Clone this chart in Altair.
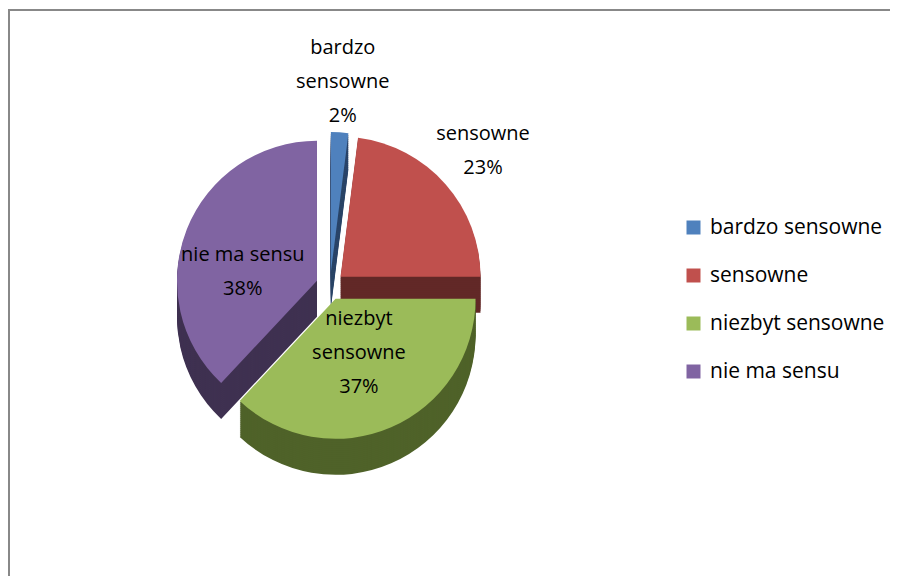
import altair as alt
import pandas as pd

categories = ["bardzo sensowne", "sensowne", "niezbyt sensowne", "nie ma sensu"]
values = [2, 23, 37, 38]
label_names = ["bardzo\nsensowne", "sensowne", "niezbyt\nsensowne", "nie ma sensu"]
top_colors = ["#4F81BD", "#C0504D", "#9BBB59", "#8064A2"]
side_colors = ["#2A4468", "#622827", "#4F6229", "#3F3151"]

df = pd.DataFrame({
    "category": categories,
    "value": values,
    "label_name": label_names,
    "order": list(range(len(categories))),
    "side": side_colors,
})

W, H = 882, 568
CX, CY = 322, 278
R = 140
E = 14
D = 36
LH = 34
FONT = "Open Sans"

base = (
    alt.Chart(df)
    .transform_joinaggregate(total="sum(value)")
    .transform_window(cum="sum(value)", sort=[alt.SortField("order")], frame=[None, 0])
    .transform_calculate(
        t2="datum.cum / datum.total * 2 * PI",
        t1="(datum.cum - datum.value) / datum.total * 2 * PI",
    )
    .transform_calculate(mid="(datum.t1 + datum.t2) / 2")
    .transform_calculate(
        cx=f"{CX} + {E} * sin(datum.mid)",
        cy=f"{CY} - {E} * cos(datum.mid)",
        lr=f"datum.value < 30 ? {R + 50} : (datum.mid > PI ? {R * 0.57} : {R * 0.42})",
        kv="datum.value < 30 ? 1 : (datum.mid > PI ? 0.3 : 1)",
        nl="indexof(datum.label_name, '\\n') >= 0 ? 3 : 2",
        label="datum.label_name + '\\n' + datum.value + '%'",
    )
    .transform_calculate(
        lx="datum.cx + datum.lr * sin(datum.mid)",
        ly=f"datum.cy - datum.lr * datum.kv * cos(datum.mid) - (datum.nl - 1) * {LH / 2}",
    )
)

pos = dict(
    x=alt.X("cx:Q", scale=None, axis=None),
    y=alt.Y("cy:Q", scale=None, axis=None),
    theta=alt.Theta("t1:Q", scale=None),
    theta2=alt.Theta2("t2:Q"),
)

depth_layers = [
    base.mark_arc(radius=R, yOffset=k).encode(
        color=alt.Color("side:N", scale=None), **pos
    )
    for k in range(D, 0, -2)
]

top = base.mark_arc(radius=R).encode(
    color=alt.Color(
        "category:N",
        scale=alt.Scale(domain=categories, range=top_colors),
        legend=alt.Legend(
            title=None,
            orient="none",
            legendX=675,
            legendY=209,
            symbolType="square",
            symbolSize=196,
            symbolStrokeWidth=0,
            labelFontSize=21,
            labelFont=FONT,
            labelColor="black",
            labelOffset=6,
            labelLimit=0,
            rowPadding=26,
        ),
    ),
    **pos,
)

text = base.mark_text(
    lineBreak="\n", lineHeight=LH, fontSize=20, font=FONT, color="black", baseline="middle"
).encode(
    x=alt.X("lx:Q", scale=None, axis=None),
    y=alt.Y("ly:Q", scale=None, axis=None),
    text="label:N",
)

frame_df = pd.DataFrame({"f": [0]})
top_rule = alt.Chart(frame_df).mark_rule(color="#888888", strokeWidth=2).encode(
    x=alt.value(0), x2=alt.value(W), y=alt.value(2)
)
left_rule = alt.Chart(frame_df).mark_rule(color="#888888", strokeWidth=2).encode(
    x=alt.value(1), y=alt.value(1), y2=alt.value(H)
)

chart = (
    alt.layer(*depth_layers, top, text, top_rule, left_rule)
    .resolve_scale(color="independent")
    .properties(width=W, height=H, padding=0, autosize="none")
    .configure_view(stroke=None)
)

chart.save("out.html", embed_options={"renderer": "svg", "actions": False})
